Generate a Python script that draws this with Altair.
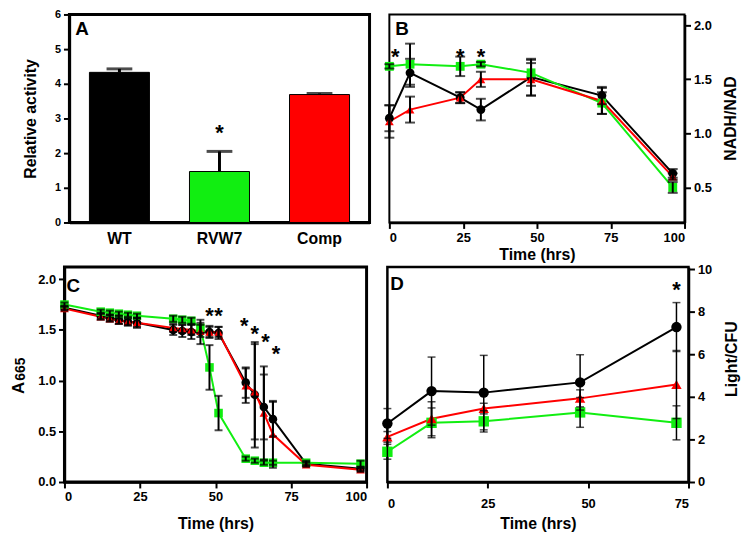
import altair as alt
import pandas as pd

FONT = "Liberation Sans"
strains = ["WT", "RVW7", "Comp"]
palette = ["#000000", "#11ee11", "#ff0000"]
shapes = ["circle", "square", "triangle-up"]

# ---------------- Panel A (relative activity) ----------------
a_value = [4.33, 1.47, 3.69]
a_err = [0.10, 0.58, 0.03]
a_star_strain = ["RVW7"]
a_star_y = [2.75]

# ---------------- Panel B (NADH/NAD) ----------------
b_time = [0, 7, 24, 31, 48, 72, 96]
b_wt = [1.14, 1.56, 1.33, 1.22, 1.52, 1.35, 0.63]
b_wt_err = [0.12, 0.13, 0.05, 0.10, 0.17, 0.08, 0.04]
b_rvw7 = [1.62, 1.64, 1.62, 1.64, 1.56, 1.28, 0.50]
b_rvw7_err = [0.02, 0.19, 0.09, 0.02, 0.12, 0.10, 0.05]
b_comp = [1.11, 1.22, 1.33, 1.50, 1.50, 1.30, 0.60]
b_comp_err = [0.15, 0.12, 0.05, 0.07, 0.15, 0.12, 0.03]
b_star_t = [2, 24, 31]
b_star_y = [1.76, 1.76, 1.76]
b_ytitle = "NADH/NAD"

# ---------------- Panel C (A665) ----------------
c_time = [0, 12, 15, 18, 21, 24, 36, 39, 42, 45, 48, 51, 60, 63, 66, 69, 80, 98]
c_wt = [1.72, 1.64, 1.62, 1.60, 1.58, 1.57, 1.50, 1.49, 1.48, 1.48, 1.48, 1.47,
        0.98, 0.86, 0.74, 0.62, 0.18, 0.13]
c_wt_err = [0.02, 0.03, 0.03, 0.04, 0.04, 0.05, 0.05, 0.06, 0.07, 0.12, 0.06, 0.06,
            0.15, 0.52, 0.32, 0.17, 0.02, 0.02]
c_rvw7 = [1.75, 1.68, 1.67, 1.66, 1.65, 1.64, 1.61, 1.60, 1.59, 1.52, 1.13, 0.68,
          0.23, 0.21, 0.19, 0.19, 0.19, 0.18]
c_rvw7_err = [0.02, 0.02, 0.02, 0.02, 0.02, 0.02, 0.03, 0.03, 0.03, 0.05, 0.22, 0.17,
              0.02, 0.02, 0.02, 0.02, 0.02, 0.03]
c_comp = [1.71, 1.63, 1.61, 1.59, 1.58, 1.57, 1.52, 1.51, 1.50, 1.49, 1.48, 1.48,
          0.95, 0.89, 0.68, 0.47, 0.17, 0.12]
c_comp_err = [0.02, 0.03, 0.03, 0.03, 0.03, 0.04, 0.04, 0.04, 0.05, 0.06, 0.05, 0.05,
              0.17, 0.47, 0.46, 0.33, 0.02, 0.02]
c_star_t = [48, 51, 59.5, 63, 66.5, 70]
c_star_y = [1.70, 1.70, 1.60, 1.52, 1.44, 1.32]
c_title_main = "A"
c_title_sub = "665"

# ---------------- Panel D (Light/CFU) ----------------
d_time = [0, 11, 24, 48, 72]
d_wt = [2.75, 4.27, 4.20, 4.68, 7.28]
d_wt_err = [0.70, 1.60, 1.75, 1.30, 1.15]
d_rvw7 = [1.42, 2.78, 2.85, 3.27, 2.78]
d_rvw7_err = [0.35, 0.70, 0.50, 0.70, 0.80]
d_comp = [2.12, 2.97, 3.45, 3.93, 4.58]
d_comp_err = [0.25, 0.80, 0.25, 0.40, 1.60]
d_star_t = [72]
d_star_y = [9.3]
d_ytitle = "Light/CFU"


def long_df(time, vals, errs):
    rows = []
    for s, v, e in zip(strains, vals, errs):
        for t, y, err in zip(time, v, e):
            rows.append({"t": t, "strain": s, "y": y, "lo": y - err, "hi": y + err})
    return pd.DataFrame(rows)


color = alt.Color("strain:N", scale=alt.Scale(domain=strains, range=palette), legend=None)
shape = alt.Shape("strain:N", scale=alt.Scale(domain=strains, range=shapes), legend=None)


def label_mark(txt, lx, ly, size=19, angle=0, align="left"):
    return alt.Chart(pd.DataFrame({"l": [txt]})).mark_text(
        font=FONT, fontSize=size, fontWeight="bold", align=align, baseline="middle",
        color="black", angle=angle
    ).encode(x=alt.value(lx), y=alt.value(ly), text="l:N")


def line_panel(df, star_t, star_y, xdom, xvals, ydom, yvals, yfmt, yorient,
               letter, lx, ly, w, h, psize, cap, rulew, framew,
               xlabel_pad, xtitle_pad, extra=()):
    xs = alt.Scale(domain=xdom, nice=False, zero=False)
    xa = alt.Axis(values=xvals, format="d", title="Time (hrs)", titlePadding=xtitle_pad,
                  labelPadding=xlabel_pad)
    ys = alt.Scale(domain=ydom, nice=False, zero=False)
    ya = alt.Axis(values=yvals, format=yfmt, title=None, orient=yorient)
    X = lambda f: alt.X(f, scale=xs, axis=xa)
    Y = lambda f: alt.Y(f, scale=ys, axis=ya)
    base = alt.Chart(df)
    lines = base.mark_line(strokeWidth=2).encode(x=X("t:Q"), y=Y("y:Q"), color=color)
    pts = base.mark_point(filled=True, opacity=1, size=psize).encode(
        x=X("t:Q"), y=Y("y:Q"), color=color, shape=shape)
    rules = base.mark_rule(color="black", strokeWidth=rulew).encode(
        x=X("t:Q"), y=Y("lo:Q"), y2="hi:Q")
    cap_hi = base.mark_tick(color="black", thickness=rulew, size=cap, orient="horizontal").encode(
        x=X("t:Q"), y=Y("hi:Q"))
    cap_lo = base.mark_tick(color="black", thickness=rulew, size=cap, orient="horizontal").encode(
        x=X("t:Q"), y=Y("lo:Q"))
    sdf = pd.DataFrame({"t": star_t, "y": star_y})
    stars = alt.Chart(sdf).mark_text(text="*", font=FONT, fontSize=22, fontWeight="bold",
                                     color="black", dy=6).encode(x=X("t:Q"), y=Y("y:Q"))
    return alt.layer(lines, pts, rules, cap_hi, cap_lo, stars, label_mark(letter, lx, ly),
                     *extra).properties(
        width=w, height=h, view=alt.ViewBackground(stroke="black", strokeWidth=framew))


# Panel A
adf = pd.DataFrame({"strain": strains, "value": a_value,
                    "hi": [v + e for v, e in zip(a_value, a_err)]})
xa_enc = lambda: alt.X("strain:N", sort=strains,
                       scale=alt.Scale(domain=strains, paddingInner=0.4, paddingOuter=0.2),
                       axis=alt.Axis(title=None, labelAngle=0, labelFontSize=16, ticks=False,
                                     labelPadding=8))
ya_scale = alt.Scale(domain=[0, 6], nice=False)
ya_axis = alt.Axis(values=[0, 1, 2, 3, 4, 5, 6], format="d", title="Relative activity",
                   titlePadding=16, labelFontSize=11)
bars = alt.Chart(adf).mark_bar(stroke="black", strokeWidth=1).encode(
    x=xa_enc(), y=alt.Y("value:Q", scale=ya_scale, axis=ya_axis), color=color)
a_rule = alt.Chart(adf).mark_rule(color="black", strokeWidth=3).encode(
    x=xa_enc(), y=alt.Y("value:Q", scale=ya_scale, axis=ya_axis), y2="hi:Q")
a_cap = alt.Chart(adf).mark_tick(color="black", thickness=3, size=26, orient="horizontal").encode(
    x=xa_enc(), y=alt.Y("hi:Q", scale=ya_scale, axis=ya_axis))
a_star = alt.Chart(pd.DataFrame({"strain": a_star_strain, "value": a_star_y})).mark_text(
    text="*", font=FONT, fontSize=22, fontWeight="bold", color="black", dy=6).encode(
    x=xa_enc(), y=alt.Y("value:Q", scale=ya_scale, axis=ya_axis))
panel_a = alt.layer(bars, a_rule, a_cap, a_star, label_mark("A", 6, 15)).properties(
    width=303, height=210, view=alt.ViewBackground(stroke="black", strokeWidth=3))

b_title = [label_mark(b_ytitle, 345, 105, size=16, angle=270, align="center")]
panel_b = line_panel(long_df(b_time, [b_wt, b_rvw7, b_comp], [b_wt_err, b_rvw7_err, b_comp_err]),
                     b_star_t, b_star_y, [0, 100], [0, 25, 50, 75, 100], [0.176, 2.1],
                     [0.5, 1.0, 1.5, 2.0], ".1f", "right", "B", 6, 15,
                     298, 210, 80, 10, 2, 2, 3, 2, extra=b_title)
c_title = [label_mark(c_title_main, -46, 122, size=17, angle=270, align="center"),
           label_mark(c_title_sub, -44, 103, size=14, angle=270, align="center")]
panel_c = line_panel(long_df(c_time, [c_wt, c_rvw7, c_comp], [c_wt_err, c_rvw7_err, c_comp_err]),
                     c_star_t, c_star_y, [0, 100], [0, 25, 50, 75, 100], [0, 2.12],
                     [0.0, 0.5, 1.0, 1.5, 2.0], ".1f", "left", "C", 2, 19,
                     305, 217, 75, 8, 2, 3, 3, 12, extra=c_title)
d_title = [label_mark(d_ytitle, 348, 93, size=16, angle=270, align="center")]
panel_d = line_panel(long_df(d_time, [d_wt, d_rvw7, d_comp], [d_wt_err, d_rvw7_err, d_comp_err]),
                     d_star_t, d_star_y, [0, 75], [0, 25, 50, 75], [0, 10.1],
                     [0, 2, 4, 6, 8, 10], "d", "right", "D", 3, 17,
                     304, 217, 110, 8, 1.5, 2.5, 10, 5, extra=d_title)


def spacer(w):
    return alt.Chart(pd.DataFrame({"v": [0]})).mark_point(size=1, opacity=0).encode(
        x=alt.value(w / 2), y=alt.value(2)).properties(
        width=w, height=4, view=alt.ViewBackground(stroke="transparent"))


row1 = alt.hconcat(spacer(39), panel_a, panel_b, spacing=20, bounds="flush")
row2 = alt.hconcat(spacer(33), panel_c, panel_d, spacing=21, bounds="flush")

chart = alt.vconcat(row1, row2, spacing=-2).properties(
    padding={"left": 0, "top": -4, "right": 0, "bottom": 0}
).configure_axis(
    labelFont=FONT, labelFontWeight="bold", labelFontSize=13, labelColor="black",
    titleFont=FONT, titleFontWeight="bold", titleFontSize=16, titleColor="black",
    domainColor="black", domainWidth=2.5, tickColor="black", tickWidth=2, tickSize=6,
    labelPadding=3, grid=False
).configure_view(stroke="black")

chart.save("out.html", embed_options={"renderer": "svg", "actions": False})
